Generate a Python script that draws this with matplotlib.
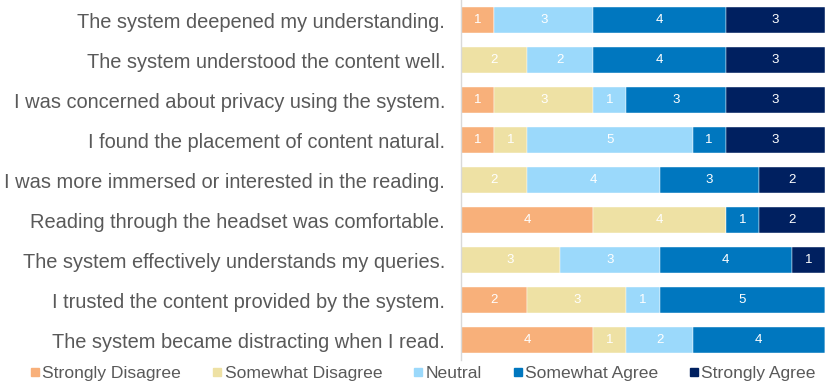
import matplotlib
matplotlib.use("Agg")
import matplotlib.pyplot as plt
from matplotlib.lines import Line2D
import numpy as np

plt.rcParams['font.family'] = ['Liberation Sans', 'DejaVu Sans']

statements = [
    "The system deepened my understanding.",
    "The system understood the content well.",
    "I was concerned about privacy using the system.",
    "I found the placement of content natural.",
    "I was more immersed or interested in the reading.",
    "Reading through the headset was comfortable.",
    "The system effectively understands my queries.",
    "I trusted the content provided by the system.",
    "The system became distracting when I read.",
]
categories = ["Strongly Disagree", "Somewhat Disagree", "Neutral", "Somewhat Agree", "Strongly Agree"]
strongly_disagree = [1, 0, 1, 1, 0, 4, 0, 2, 4]
somewhat_disagree = [0, 2, 3, 1, 2, 4, 3, 3, 1]
neutral = [3, 2, 1, 5, 4, 0, 3, 1, 2]
somewhat_agree = [4, 4, 3, 1, 3, 1, 4, 5, 4]
strongly_agree = [3, 3, 3, 3, 2, 2, 1, 0, 0]
colors = ["#F8B07A", "#EEE1A4", "#9BD9FB", "#0077BF", "#002060"]

series = [strongly_disagree, somewhat_disagree, neutral, somewhat_agree, strongly_agree]

fig = plt.figure(figsize=(8.3, 3.87), dpi=100)
ax = fig.add_axes([461/830, 27/387, (825-461)/830, 360/387])

y = np.arange(len(statements))
left = np.zeros(len(statements))
for vals, col in zip(series, colors):
    vals = np.array(vals, dtype=float)
    ax.barh(y, vals, left=left, height=0.65, color=col, edgecolor='white', linewidth=0.3)
    for yi, (l, v) in enumerate(zip(left, vals)):
        if v > 0:
            ax.text(l + v/2, yi, f"{int(v)}", ha='center', va='center', color='white', fontsize=9.5)
    left += vals

ax.set_ylim(len(statements) - 0.5, -0.5)
ax.set_xlim(0, 11)
ax.set_yticks(y)
ax.set_yticklabels(statements, fontsize=14.4, color='#595959')
ax.tick_params(axis='y', length=0, pad=11.5)
ax.set_xticks([])
for s in ['top', 'right', 'bottom']:
    ax.spines[s].set_visible(False)
ax.spines['left'].set_color('#D9D9D9')
ax.spines['left'].set_linewidth(1)

handles = [Line2D([0], [0], marker='s', linestyle='', markersize=5.4, markerfacecolor=c, markeredgecolor=c) for c in colors]
fig.legend(handles, categories, loc='center', bbox_to_anchor=(0.51, 14/387), ncol=5, frameon=False,
           fontsize=12.6, labelcolor='#595959', handletextpad=0.17, columnspacing=1.8, handlelength=0.5,
           borderpad=0, borderaxespad=0)

fig.savefig("out.png", dpi=100)
